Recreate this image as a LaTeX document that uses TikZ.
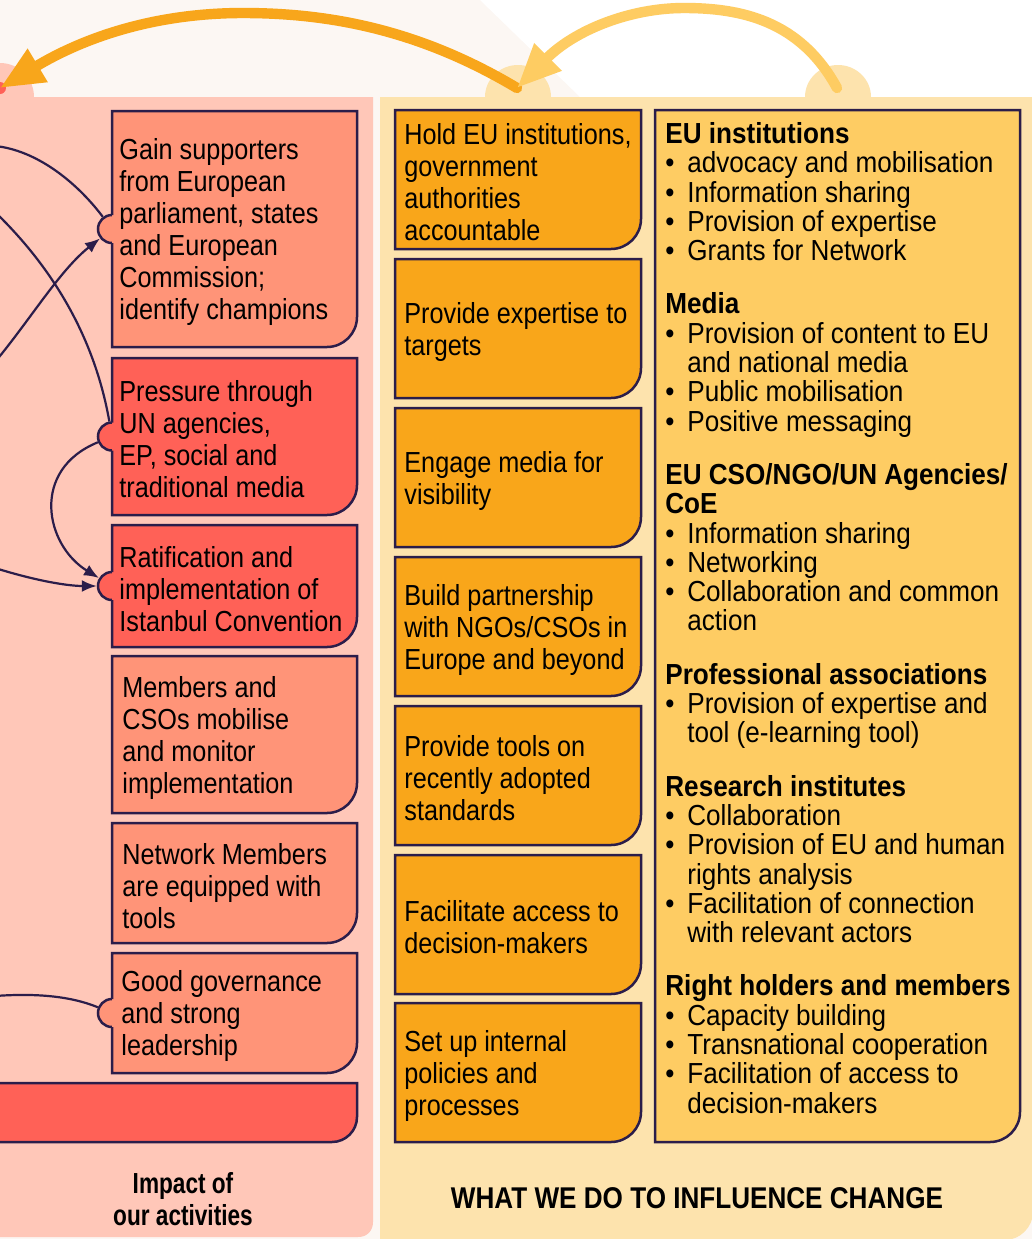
\documentclass[tikz,border=0pt]{standalone}
\usepackage{fontspec}
\setmainfont{Liberation Sans}[FakeStretch=0.87]
\newfontfamily\squeezed{Liberation Sans}[FakeStretch=0.78]
\newfontfamily\listfont{Liberation Sans}[FakeStretch=0.9]
\usetikzlibrary{arrows.meta,positioning}
\definecolor{pagebg}{HTML}{FCF7F3}
\definecolor{impactbg}{HTML}{FFC7B8}
\definecolor{dobg}{HTML}{FDE3AD}
\definecolor{salmon}{HTML}{FF9478}
\definecolor{coral}{HTML}{FF6157}
\definecolor{orangebox}{HTML}{F9A61A}
\definecolor{yellowbox}{HTML}{FECC63}
\definecolor{outline}{HTML}{2B1D4A}
\definecolor{arrowdark}{HTML}{F8A61B}
\definecolor{arrowlight}{HTML}{FECC62}
\pgfdeclarelayer{back}
\pgfsetlayers{back,main}
\tikzset{
    card/.style={inner sep=0pt, outer sep=0pt, anchor=north west},
    cardtext/.style={inner sep=0pt, align=left, yshift=-1.5pt, font=\fontsize{14.5}{16}\selectfont},
    listtext/.style={inner sep=0pt, align=left, anchor=north west, font=\listfont\fontsize{14.5}{14.65}\selectfont},
    notch/.style={circle, draw=outline, line width=1.25pt, inner sep=0pt, minimum size=14pt},
    rim/.style={draw=outline, line width=1.25pt},
    link/.style={draw=outline, line width=1.1pt},
    tip/.style={-{Latex[length=7.5pt,width=6pt]}},
    bigarrow/.style={line width=5.2pt, line cap=round, -{Triangle[length=22pt,width=18pt]}},
  }
% box with a rounded lower right corner
\newcommand{\card}[3]{%
  \filldraw[rim,fill=#2] (#1.north west) -- (#1.north east) -- ([yshift=#3]#1.south east)
    .. controls ([yshift=0.45*#3]#1.south east) and ([xshift=-0.45*#3]#1.south east) .. ([xshift=-#3]#1.south east)
    -- (#1.south west) -- cycle;}
% same box with a round tab on the left side
\newcommand{\notchcard}[3]{%
  \node[notch,fill=#2] (#1bump) at (#1.west) {};
  \fill[#2] (#1.north west) -- (#1.north east) -- ([yshift=#3]#1.south east)
    .. controls ([yshift=0.45*#3]#1.south east) and ([xshift=-0.45*#3]#1.south east) .. ([xshift=-#3]#1.south east)
    -- (#1.south west) -- cycle;
  \draw[rim] ([yshift=7pt]#1.west) -- (#1.north west) -- (#1.north east) -- ([yshift=#3]#1.south east)
    .. controls ([yshift=0.45*#3]#1.south east) and ([xshift=-0.45*#3]#1.south east) .. ([xshift=-#3]#1.south east)
    -- (#1.south west) -- ([yshift=-7pt]#1.west);}
\newcommand{\bulitem}{\makebox[11pt][l]{\textbullet}}
\newcommand{\bulcont}{\hspace*{11pt}}

\begin{document}
\begin{tikzpicture}[x=0.5pt,y=-0.5pt]
  \useasboundingbox (0,0) rectangle (1032,1239);
  % panels
  \begin{pgfonlayer}{back}
    \fill[pagebg] (0,0) rectangle (1032,1239);
    \fill[white] (480,0) -- (580,97) -- (1032,97) -- (1032,0) -- cycle;
    \fill[impactbg] (0,97) circle (34);
    \fill[impactbg] (-5,97) -- (373,97) -- (373,1222) .. controls (373,1231) and (367,1237) .. (358,1237) -- (-5,1237) -- cycle;
    \fill[dobg] (518,97) ellipse [x radius=33, y radius=32];
    \fill[dobg] (838,97) ellipse [x radius=33, y radius=32];
    \fill[dobg] (380,97) -- (1033,97) -- (1033,1212) .. controls (1033,1227) and (1020,1240) .. (1005,1240) -- (380,1240) -- cycle;
  \end{pgfonlayer}

  % impact boxes
  \node[card, minimum width=122.5pt, minimum height=118pt] (gain) at (112,111) {};
  \node[card, minimum width=122.5pt, minimum height=78.5pt] (pressure) at (112,358) {};
  \node[card, minimum width=122.5pt, minimum height=61pt] (ratify) at (112,525) {};
  \node[card, minimum width=122.5pt, minimum height=78.5pt] (mobilise) at (112,656) {};
  \node[card, minimum width=122.5pt, minimum height=60pt] (equip) at (112,823) {};
  \node[card, minimum width=122.5pt, minimum height=60pt] (govern) at (112,953) {};
  \node[card, minimum width=183.5pt, minimum height=29.5pt] (bar) at (-10,1083) {};
  % activity boxes
  \node[card, minimum width=123pt, minimum height=69.5pt] (hold) at (395,110) {};
  \node[card, minimum width=123pt, minimum height=69.5pt] (expert) at (395,259) {};
  \node[card, minimum width=123pt, minimum height=69.5pt] (media) at (395,408) {};
  \node[card, minimum width=123pt, minimum height=69.5pt] (partner) at (395,557) {};
  \node[card, minimum width=123pt, minimum height=69.5pt] (tools) at (395,706) {};
  \node[card, minimum width=123pt, minimum height=69.5pt] (access) at (395,855) {};
  \node[card, minimum width=123pt, minimum height=69.5pt] (internal) at (395,1003) {};
  \node[card, minimum width=182.5pt, minimum height=516pt] (targets) at (655,110) {};

  \begin{pgfonlayer}{back}
    \notchcard{gain}{salmon}{15pt}
    \notchcard{pressure}{coral}{15pt}
    \notchcard{ratify}{coral}{15pt}
    \card{mobilise}{salmon}{15pt}
    \card{equip}{salmon}{15pt}
    \notchcard{govern}{salmon}{15pt}
    \card{bar}{coral}{12.5pt}
    \foreach \n in {hold,expert,media,partner,tools,access,internal}
      \card{\n}{orangebox}{15pt};
    \card{targets}{yellowbox}{15pt}
  \end{pgfonlayer}

  \node[cardtext, right=3.5pt of gain.west] (gaintext) {Gain supporters\\from European\\parliament, states\\and European\\Commission;\\identify champions};
  \node[cardtext, right=3.5pt of pressure.west] (pressuretext) {Pressure through\\UN agencies,\\EP, social and\\traditional media};
  \node[cardtext, right=3.5pt of ratify.west] (ratifytext) {Ratification and\\implementation of\\Istanbul Convention};
  \node[cardtext, right=5pt of mobilise.west] (mobilisetext) {Members and\\CSOs mobilise\\and monitor\\implementation};
  \node[cardtext, right=5pt of equip.west] (equiptext) {Network Members\\are equipped with\\tools};
  \node[cardtext, right=4.5pt of govern.west] (governtext) {Good governance\\and strong\\leadership};

  \node[cardtext, right=4.5pt of hold.west] (holdtext) {Hold EU institutions,\\government\\authorities\\accountable};
  \node[cardtext, right=4.5pt of expert.west] (experttext) {Provide expertise to\\targets};
  \node[cardtext, right=4.5pt of media.west] (mediatext) {Engage media for\\visibility};
  \node[cardtext, right=4.5pt of partner.west] (partnertext) {Build partnership\\with NGOs/CSOs in\\Europe and beyond};
  \node[cardtext, right=4.5pt of tools.west] (toolstext) {Provide tools on\\recently adopted\\standards};
  \node[cardtext, right=4.5pt of access.west] (accesstext) {Facilitate access to\\decision-makers};
  \node[cardtext, right=4.5pt of internal.west] (internaltext) {Set up internal\\policies and\\processes};

  \node[listtext] (targetstext) at (665,122) {\textbf{EU institutions}\\
    \bulitem advocacy and mobilisation\\
    \bulitem Information sharing\\
    \bulitem Provision of expertise\\
    \bulitem Grants for Network\\[12pt]
    \textbf{Media}\\
    \bulitem Provision of content to EU\\
    \bulcont and national media\\
    \bulitem Public mobilisation\\
    \bulitem Positive messaging\\[12pt]
    \textbf{EU CSO/NGO/UN Agencies/}\\
    \textbf{CoE}\\
    \bulitem Information sharing\\
    \bulitem Networking\\
    \bulitem Collaboration and common\\
    \bulcont action\\[12pt]
    \textbf{Professional associations}\\
    \bulitem Provision of expertise and\\
    \bulcont tool (e-learning tool)\\[12pt]
    \textbf{Research institutes}\\
    \bulitem Collaboration\\
    \bulitem Provision of EU and human\\
    \bulcont rights analysis\\
    \bulitem Facilitation of connection\\
    \bulcont with relevant actors\\[12pt]
    \textbf{Right holders and members}\\
    \bulitem Capacity building\\
    \bulitem Transnational cooperation\\
    \bulitem Facilitation of access to\\
    \bulcont decision-makers};

  % links between impacts
  \coordinate (fromA) at (-5,146);
  \coordinate (fromB) at (-5,212);
  \coordinate (fromC) at (-5,362);
  \coordinate (fromE) at (-5,568);
  \coordinate (fromF) at (-5,996);
  \draw[link] (fromA) .. controls (35,150) and (75,180) .. (gainbump);
  \draw[link] (fromB) .. controls (55,270) and (95,340) .. (pressurebump);
  \draw[link,tip] (fromC) .. controls (30,320) and (60,270) .. (gainbump);
  \draw[link,tip] (pressurebump) .. controls (30,470) and (45,545) .. (ratifybump);
  \draw[link,tip] (fromE) .. controls (40,582) and (70,586) .. (ratifybump);
  \draw[link] (fromF) .. controls (50,992) and (80,1000) .. (governbump);

  % arrows on top
  \coordinate (impactdot) at (0,88);
  \coordinate (dodot) at (517,88);
  \coordinate (dodottwo) at (837,88);
  \fill[coral] (impactdot) circle (6);
  \draw[bigarrow,draw=arrowdark] (dodot) .. controls (420,30) and (330,13) .. (243,13)
    .. controls (150,13) and (80,40) .. (impactdot);
  \draw[bigarrow,draw=arrowlight] (dodottwo) .. controls (800,20) and (740,8) .. (684,8)
    .. controls (630,8) and (575,30) .. (dodot);

  \node[font=\squeezed\bfseries\fontsize{14.5}{16}\selectfont, align=center] (impact) at (183,1199) {Impact of\\our activities};
  \node[font=\bfseries\fontsize{15}{18}\selectfont] (influence) at (697,1198) {WHAT WE DO TO INFLUENCE CHANGE};
\end{tikzpicture}
\end{document}
